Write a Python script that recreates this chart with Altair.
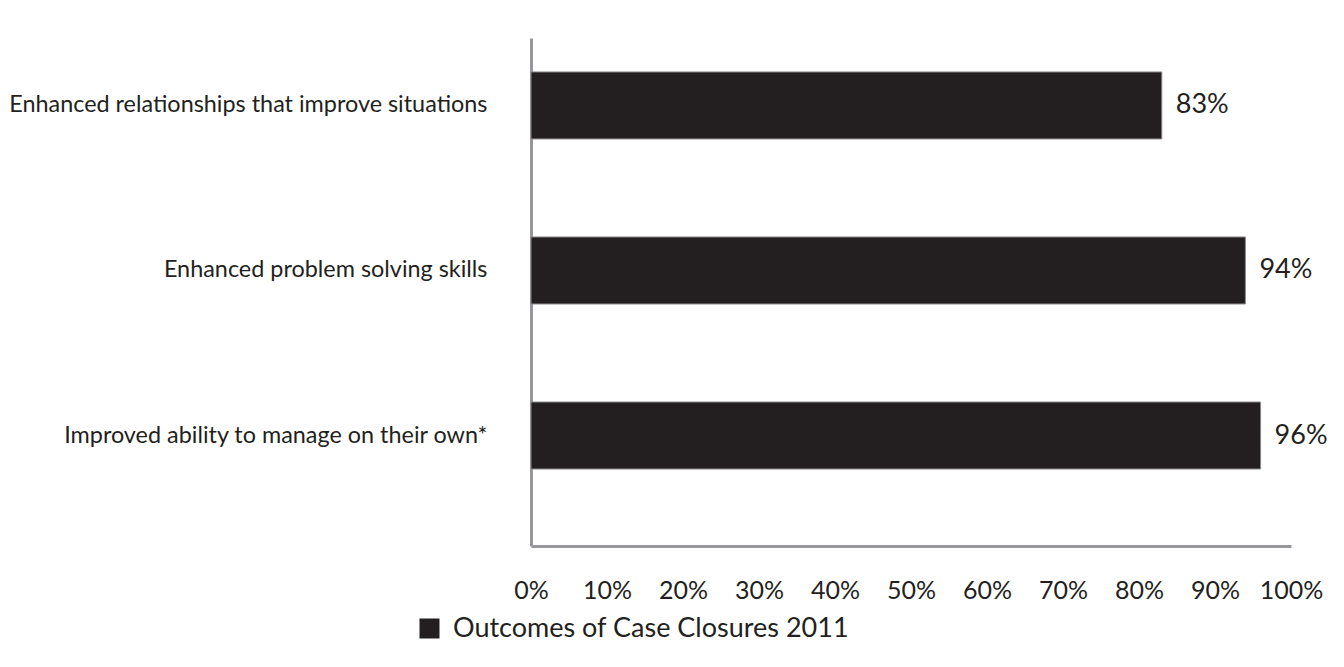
import altair as alt
import pandas as pd

categories = [
    "Enhanced relationships that improve situations",
    "Enhanced problem solving skills",
    "Improved ability to manage on their own*",
]
values = [83, 94, 96]
series_name = "Outcomes of Case Closures 2011"

df = pd.DataFrame({
    "category": categories,
    "value": values,
    "label": [f"{v}%" for v in values],
    "series": [series_name] * len(values),
})

FONT = "Lato"
INK = "#231f20"
AXIS_GRAY = "#98989c"

y_enc = alt.Y(
    "category:N",
    sort=categories,
    title=None,
    scale=alt.Scale(paddingInner=0.594, paddingOuter=0.336, align=0.306),
    axis=alt.Axis(
        ticks=False,
        grid=False,
        domainColor=AXIS_GRAY,
        domainWidth=3,
        labelFont=FONT,
        labelFontSize=23.4,
        labelColor=INK,
        labelPadding=44,
        labelLimit=700,
    ),
)

x_enc = alt.X(
    "value:Q",
    title=None,
    scale=alt.Scale(domain=[0, 100], nice=False),
    axis=alt.Axis(
        values=[0, 10, 20, 30, 40, 50, 60, 70, 80, 90, 100],
        labelExpr="datum.value + '%'",
        ticks=False,
        grid=False,
        domainColor=AXIS_GRAY,
        domainWidth=3,
        labelFont=FONT,
        labelFontSize=25,
        labelColor=INK,
        labelPadding=32,
        labelFlush=False,
    ),
)

bars = alt.Chart(df).mark_bar(stroke="#8a8a8a", strokeWidth=1).encode(
    y=y_enc,
    x=x_enc,
    color=alt.Color(
        "series:N",
        scale=alt.Scale(range=[INK]),
        legend=alt.Legend(
            title=None,
            orient="none",
            legendX=-115,
            legendY=577,
            symbolType="square",
            symbolSize=400,
            symbolStrokeWidth=0,
            labelFont=FONT,
            labelFontSize=27,
            labelColor=INK,
            labelOffset=10,
            labelLimit=700,
        ),
    ),
)

labels = alt.Chart(df).mark_text(
    align="left", baseline="middle", dx=14, font=FONT, fontSize=27, color=INK
).encode(
    y=alt.Y("category:N", sort=categories),
    x=alt.X("value:Q"),
    text="label:N",
)

chart = (
    alt.layer(bars, labels)
    .properties(
        width=760,
        height=508,
        background="white",
        autosize=alt.AutoSizeParams(type="none"),
        padding={"left": 523, "top": 30, "right": 40, "bottom": 100},
    )
    .configure_view(strokeWidth=0, stroke="transparent")
    .configure_axis(domainWidth=3, domainColor=AXIS_GRAY, grid=False)
)

chart.save("out.html", embed_options={"renderer": "svg", "actions": False})
